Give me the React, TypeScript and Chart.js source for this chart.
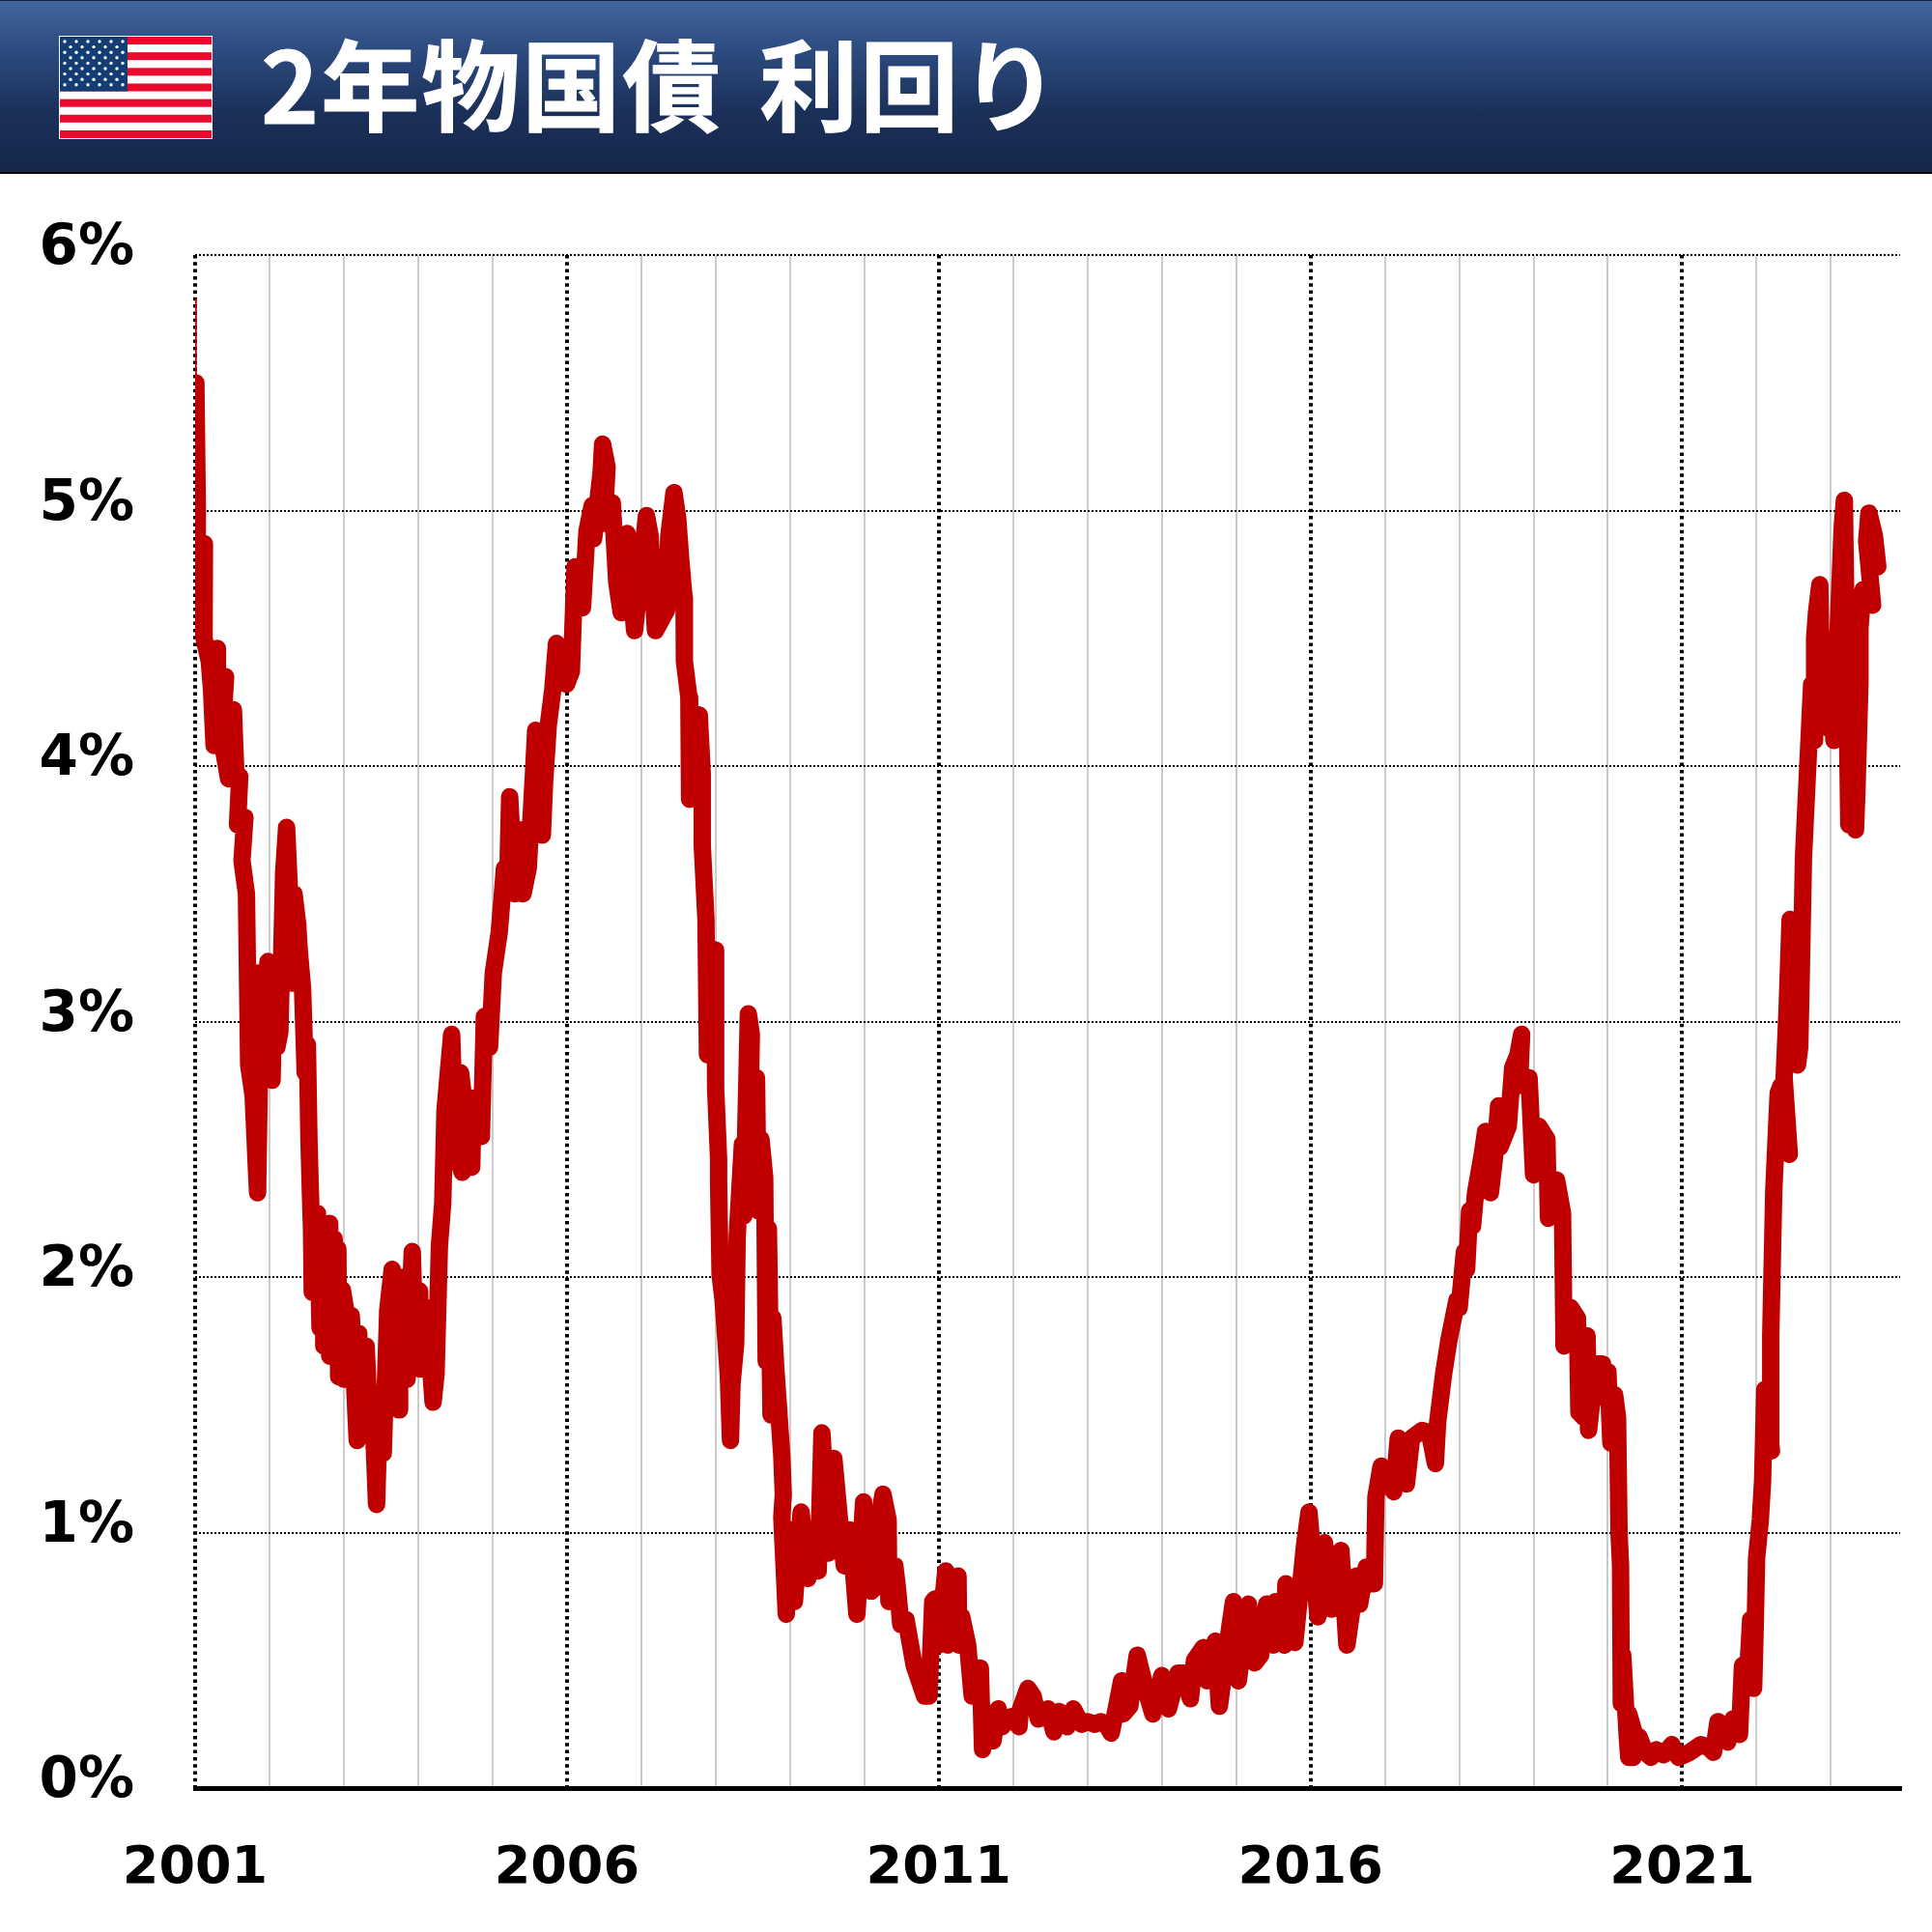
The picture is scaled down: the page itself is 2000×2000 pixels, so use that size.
import React, { useEffect, useRef } from "react";
import { Chart, registerables } from "chart.js";

Chart.register(...registerables);

type Pt = [number, number];

const titleText = "2年物国債 利回り";
const yTickValues = [0, 1, 2, 3, 4, 5, 6];
const majorYears = [2001, 2006, 2011, 2016, 2021];

const firstQuote: Pt[] = [[2001.0, 5.83], [2001.01, 5.5]];

const yields2001to2004: Pt[] = [
  [2001.01,5.5],[2001.03,5.0],[2001.02,4.54],[2001.07,4.8],[2001.125,4.87],[2001.12,4.5],[2001.19,4.41],[2001.22,4.3],[2001.255,4.08],[2001.30,4.46],[2001.30,4.1],
  [2001.41,4.35],[2001.36,4.1],[2001.45,3.95],[2001.515,4.22],[2001.55,3.95],[2001.6,3.96],[2001.57,3.77],[2001.67,3.8],[2001.63,3.63],
  [2001.69,3.5],[2001.72,2.83],[2001.78,2.71],[2001.82,2.45],[2001.84,2.33],[2001.87,2.9],[2001.84,3.19],[2001.9,2.8],
  [2001.98,3.235],[2002.035,2.77],[2002.06,3.15],[2002.1,2.9],[2002.14,2.96],[2002.19,3.58],[2002.23,3.76],[2002.27,3.5],[2002.28,3.2],[2002.315,3.15],[2002.33,3.5],[2002.38,3.38],
  [2002.40,3.28],[2002.445,3.13],[2002.48,2.8],[2002.51,2.91],[2002.53,2.55],[2002.55,2.33],[2002.565,2.19],[2002.575,1.94],
  [2002.645,2.25],[2002.68,1.8],[2002.73,2.2],[2002.73,1.73],[2002.81,2.21],[2002.81,1.69],[2002.87,2.15],[2002.88,1.7],[2002.92,2.11],[2002.93,1.61],[2002.98,1.95],
  [2003.03,1.86],[2003.0,1.6],[2003.1,1.85],[2003.18,1.36],[2003.2,1.78],[2003.25,1.4],[2003.3,1.73],[2003.35,1.4],[2003.38,1.55],[2003.44,1.11],
  [2003.47,1.4],[2003.53,1.31],[2003.59,1.87],[2003.65,2.03],[2003.68,1.55],[2003.745,1.48],[2003.75,1.9],[2003.80,2.0],[2003.85,1.6],[2003.92,2.10],[2003.96,1.7],
  [2004.02,1.945],[2004.02,1.64],[2004.11,1.88],[2004.2,1.51],[2004.24,1.62],[2004.285,2.12],[2004.33,2.29],[2004.36,2.65],
];

const yields2004to2008: Pt[] = [
  [2004.45,2.95],[2004.5,2.5],[2004.59,2.41],[2004.57,2.8],[2004.72,2.43],[2004.74,2.7],[2004.85,2.55],[2004.89,3.02],
  [2004.96,2.9],[2005.01,3.19],[2005.09,3.35],[2005.16,3.60],[2005.2,3.51],[2005.23,3.88],[2005.3,3.5],[2005.37,3.75],
  [2005.41,3.5],[2005.48,3.60],[2005.55,3.97],[2005.58,4.14],[2005.67,3.73],[2005.7,3.94],[2005.75,4.16],[2005.81,4.30],
  [2005.86,4.48],[2005.93,4.33],[2005.995,4.32],[2006.06,4.37],[2006.11,4.78],[2006.17,4.73],[2006.21,4.62],[2006.27,4.92],
  [2006.34,5.02],[2006.36,4.89],[2006.46,5.15],[2006.48,5.26],[2006.54,5.17],[2006.5,4.95],[2006.61,5.03],[2006.67,4.72],
  [2006.73,4.6],[2006.81,4.91],[2006.91,4.53],[2007.07,4.98],[2007.12,4.90],[2007.19,4.53],[2007.34,4.61],[2007.37,4.9],
  [2007.44,5.07],[2007.49,4.97],[2007.53,4.81],[2007.575,4.66],[2007.58,4.41],[2007.64,4.27],[2007.65,3.87],[2007.78,4.2],
  [2007.82,3.97],[2007.82,3.69],[2007.87,3.40],[2007.89,2.87],[2007.99,3.28],[2008.0,2.74],[2008.04,2.46],
];

const yields2008to2011: Pt[] = [
  [2008.04,2.37],[2008.06,2.01],[2008.10,1.91],[2008.17,1.62],[2008.2,1.36],[2008.22,1.58],[2008.27,1.74],[2008.29,2.16],
  [2008.36,2.52],[2008.38,2.24],[2008.44,3.03],[2008.48,2.95],[2008.45,2.4],[2008.55,2.78],[2008.57,2.26],[2008.61,2.54],[2008.66,2.39],
  [2008.68,1.67],[2008.71,2.19],[2008.745,1.46],[2008.77,1.84],[2008.81,1.64],[2008.89,1.30],[2008.91,1.15],[2008.89,1.06],
  [2008.93,0.81],[2008.95,0.68],[2009.03,1.01],[2009.06,0.73],[2009.15,1.08],[2009.24,0.82],[2009.29,1.0],[2009.38,0.85],
  [2009.43,1.39],[2009.52,0.92],[2009.59,1.29],[2009.66,1.07],[2009.73,0.87],[2009.81,1.01],[2009.9,0.68],[2009.99,1.12],
  [2010.09,0.77],[2010.2,0.8],[2010.22,1.09],[2010.25,1.15],[2010.32,1.05],[2010.33,0.73],[2010.41,0.87],[2010.45,0.77],
  [2010.49,0.64],[2010.56,0.66],[2010.67,0.48],[2010.81,0.36],[2010.87,0.36],[2010.92,0.73],[2010.95,0.74],[2011.0,0.56],
];

const yields2011to2016: Pt[] = [
  [2011.095,0.85],[2011.12,0.56],[2011.26,0.83],[2011.27,0.56],[2011.31,0.67],[2011.39,0.56],[2011.45,0.36],[2011.51,0.47],
  [2011.56,0.47],[2011.59,0.15],[2011.62,0.3],[2011.73,0.185],[2011.80,0.31],[2011.85,0.24],[2011.98,0.28],[2012.08,0.24],[2012.1,0.31],
  [2012.2,0.39],[2012.27,0.36],[2012.34,0.27],[2012.47,0.31],[2012.55,0.22],[2012.62,0.3],[2012.73,0.24],[2012.81,0.31],
  [2012.92,0.25],[2013.0,0.26],[2013.1,0.25],[2013.18,0.26],[2013.25,0.25],[2013.32,0.215],[2013.4,0.33],[2013.46,0.42],
  [2013.48,0.29],[2013.57,0.32],[2013.67,0.52],[2013.79,0.38],[2013.88,0.29],[2014.0,0.44],[2014.09,0.31],[2014.22,0.45],
  [2014.3,0.45],[2014.385,0.35],[2014.44,0.50],[2014.56,0.55],[2014.61,0.42],[2014.72,0.575],[2014.775,0.32],[2014.91,0.62],
  [2014.965,0.73],[2015.03,0.42],[2015.165,0.72],[2015.25,0.49],[2015.33,0.52],[2015.41,0.72],[2015.5,0.56],[2015.53,0.73],
  [2015.65,0.56],[2015.67,0.8],[2015.79,0.57],[2015.92,0.95],[2015.98,1.08],
];

const yields2016to2020: Pt[] = [
  [2016.1,0.67],[2016.19,0.96],[2016.28,0.7],[2016.41,0.93],[2016.49,0.56],[2016.62,0.83],[2016.66,0.72],[2016.75,0.865],
  [2016.79,0.8],[2016.86,0.8],[2016.88,1.14],[2016.95,1.26],[2017.12,1.16],[2017.18,1.37],[2017.29,1.19],[2017.36,1.37],
  [2017.5,1.4],[2017.6,1.39],[2017.68,1.27],[2017.71,1.43],[2017.79,1.62],[2017.86,1.75],[2017.97,1.91],[2018.0,1.88],
  [2018.07,2.10],[2018.1,2.03],[2018.14,2.26],[2018.18,2.2],[2018.22,2.33],[2018.31,2.48],[2018.355,2.57],[2018.42,2.33],
  [2018.48,2.48],[2018.53,2.67],[2018.55,2.51],[2018.66,2.59],[2018.72,2.82],[2018.79,2.87],[2018.84,2.95],[2018.81,2.75],
  [2018.94,2.78],[2019.0,2.4],[2019.07,2.59],[2019.18,2.54],[2019.2,2.23],[2019.31,2.38],[2019.39,2.25],[2019.41,1.73],
  [2019.5,1.88],[2019.59,1.84],[2019.61,1.47],[2019.68,1.45],[2019.72,1.77],[2019.74,1.4],[2019.84,1.66],[2019.93,1.66],
  [2019.91,1.53],[2020.0,1.63],[2020.04,1.35],[2020.09,1.54],[2020.13,1.45],
];

const yields2020to2023: Pt[] = [
  [2020.15,1.0],[2020.17,0.87],[2020.18,0.33],[2020.2,0.52],[2020.26,0.2],[2020.28,0.12],[2020.28,0.29],[2020.37,0.2],
  [2020.34,0.12],[2020.42,0.2],[2020.5,0.14],[2020.58,0.12],[2020.65,0.15],[2020.75,0.13],[2020.86,0.17],[2020.95,0.12],[2021.1,0.14],
  [2021.25,0.17],[2021.35,0.16],[2021.42,0.14],[2021.48,0.26],[2021.61,0.18],[2021.68,0.27],[2021.77,0.21],[2021.81,0.48],
  [2021.87,0.4],[2021.92,0.66],[2021.96,0.39],[2021.98,0.62],[2022.0,0.90],[2022.05,1.05],[2022.08,1.2],[2022.11,1.56],
  [2022.2,1.32],[2022.19,1.77],[2022.23,2.33],[2022.26,2.53],[2022.29,2.72],[2022.33,2.75],[2022.44,2.48],[2022.37,2.78],
  [2022.41,3.05],[2022.45,3.4],[2022.55,2.83],[2022.58,2.9],[2022.6,3.18],[2022.63,3.64],[2022.74,4.32],[2022.78,4.1],
  [2022.78,4.5],[2022.805,4.6],[2022.85,4.71],[2022.88,4.2],[2022.91,4.5],[2022.95,4.15],[2023.0,4.4],[2023.04,4.1],[2023.11,4.63],[2023.15,4.93],
  [2023.18,5.04],[2023.24,3.77],[2023.28,4.5],[2023.33,3.75],[2023.35,3.91],[2023.39,4.33],[2023.39,4.54],[2023.43,4.69],[2023.56,4.63],
  [2023.48,4.88],[2023.51,4.99],[2023.585,4.9],[2023.63,4.78],
];

const allYields: Pt[] = [
  ...yields2001to2004, ...yields2004to2008, ...yields2008to2011,
  ...yields2011to2016, ...yields2016to2020, ...yields2020to2023,
];

const toXY = (p: Pt[]) => p.map(([x, y]) => ({ x, y }));
const LINE_RED = "#C00000";
const LABEL_FONT = "'DejaVu Sans', 'Liberation Sans', sans-serif";

function Flag() {
  const stripes = Array.from({ length: 13 }, (_, i) => i);
  const stars: { x: number; y: number }[] = [];
  for (let row = 0; row < 9; row++) {
    const n = row % 2 === 0 ? 6 : 5;
    for (let c = 0; c < n; c++) {
      stars.push({ x: (row % 2 === 0 ? 6 : 12) + c * 12, y: 6 + row * 5.6 });
    }
  }
  return (
    <svg width={159} height={107} viewBox="0 0 159 107" style={{ position: "absolute", left: 61, top: 36, display: "block" }}>
      <rect x={0} y={0} width={159} height={107} fill="#ffffff" />
      {stripes.map((i) =>
        i % 2 === 0 ? <rect key={i} x={1} y={1 + (i * 105) / 13} width={157} height={105 / 13} fill="#EB0A2E" /> : null
      )}
      <rect x={1} y={1} width={70} height={(7 * 105) / 13} fill="#143E73" />
      {stars.map((s, i) => (
        <circle key={i} cx={s.x} cy={s.y} r={1.7} fill="#ffffff" />
      ))}
    </svg>
  );
}

export default function App() {
  const ref = useRef<HTMLCanvasElement | null>(null);

  useEffect(() => {
    if (!ref.current) return;
    const chart = new Chart(ref.current, {
      type: "line",
      data: {
        datasets: [
          {
            label: "2年物国債 利回り",
            data: toXY(allYields),
            borderColor: LINE_RED,
            borderWidth: 18,
            borderCapStyle: "round",
            borderJoinStyle: "round",
            pointRadius: 0,
            tension: 0,
            fill: false,
          },
          {
            label: "start",
            data: toXY(firstQuote),
            borderColor: LINE_RED,
            borderWidth: 2,
            pointRadius: 0,
            tension: 0,
            fill: false,
          },
        ],
      },
      options: {
        animation: false,
        responsive: false,
        devicePixelRatio: 1,
        layout: { padding: { top: 264, right: 33, left: 0, bottom: 0 } },
        plugins: { legend: { display: false }, title: { display: false }, tooltip: { enabled: false } },
        scales: {
          x: {
            type: "linear",
            min: 2001,
            max: 2023.93,
            afterFit: (s: any) => { s.height = 149; },
            border: {
              display: true,
              color: "#000000",
              width: 5,
              dash: (ctx: any) => (majorYears.includes(ctx.tick?.value) ? [3.5, 3.8] : []),
            },
            grid: {
              drawTicks: false,
              color: (ctx: any) => (majorYears.includes(ctx.tick?.value) ? "#000000" : "#CCCCCC"),
              lineWidth: (ctx: any) => (majorYears.includes(ctx.tick?.value) ? 4 : 2),
            },
            ticks: {
              stepSize: 1,
              includeBounds: false,
              autoSkip: false,
              maxRotation: 0,
              minRotation: 0,
              padding: 52,
              color: "#000000",
              font: { family: LABEL_FONT, size: 54, weight: "bold" },
              callback: (v: any) => (majorYears.includes(Number(v)) ? String(v) : ""),
            },
          },
          y: {
            type: "linear",
            min: 0,
            max: 6,
            afterFit: (s: any) => { s.width = 202; },
            border: { display: false, dash: [2, 2] },
            grid: {
              drawTicks: false,
              color: "#000000",
              lineWidth: (ctx: any) => (ctx.tick?.value === 0 ? 0 : 2),
            },
            afterBuildTicks: (s: any) => { s.ticks = yTickValues.map((value) => ({ value })); },
            ticks: {
              autoSkip: false,
              padding: 63,
              color: "#000000",
              font: { family: LABEL_FONT, size: 58, weight: "bold", lineHeight: "12px" },
              callback: (v: any) => [`${v}%`, ""],
            },
          },
        },
      },
    } as any);
    return () => chart.destroy();
  }, []);

  return (
    <div style={{ position: "absolute", left: 0, top: 0, width: 2000, height: 2000, background: "#ffffff", overflow: "hidden" }}>
      <canvas ref={ref} width={2000} height={2000} style={{ position: "absolute", left: 0, top: 0, width: 2000, height: 2000 }} />
      <div
        style={{
          position: "absolute",
          left: 0,
          top: 0,
          width: 2000,
          height: 180,
          boxSizing: "border-box",
          borderBottom: "2px solid #000000",
          borderTop: "1px solid #14213c",
          background: "linear-gradient(180deg, #42659C 0%, #2C4A7E 30%, #1B3059 65%, #16264A 100%)",
        }}
      >
        <Flag />
        <div
          style={{
            position: "absolute",
            left: 270,
            top: 18,
            height: 130,
            lineHeight: "130px",
            color: "#ffffff",
            whiteSpace: "pre",
            fontFamily: "'Noto Sans CJK JP', sans-serif",
            fontWeight: 700,
            fontSize: 102,
            letterSpacing: 2,
            wordSpacing: 13,
            WebkitTextStroke: "1px #ffffff",
          }}
        >
          {titleText}
        </div>
      </div>
    </div>
  );
}
